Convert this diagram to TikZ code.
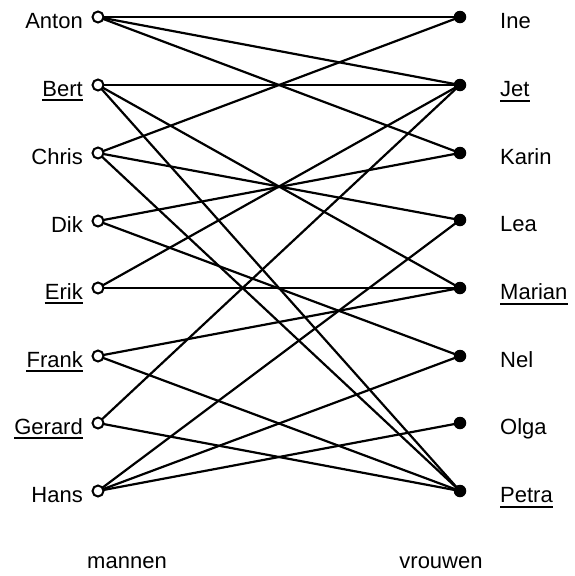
\documentclass[tikz,border=0pt]{standalone}
\usepackage{fontspec}
\setmainfont{Liberation Sans}
\begin{document}
\begin{tikzpicture}[x=1pt,y=-1pt,
  man/.style={circle,draw,line width=2pt,fill=white,minimum size=11pt,inner sep=0pt},
  vrouw/.style={circle,fill=black,minimum size=12.5pt,inner sep=0pt},
  lbl/.style={inner sep=0pt,font=\fontsize{22}{26}\selectfont},
  llbl/.style={lbl,anchor=base east},
  rlbl/.style={lbl,anchor=base west},
  edge/.style={line width=2.2pt},
  ul/.style={line width=2pt}]
\useasboundingbox (0,0) rectangle (574,576);
% left (mannen)
\foreach \n/\y in {Anton/17,Bert/85,Chris/153,Dik/221,Erik/288,Frank/356,Gerard/423,Hans/491}{
  \node[llbl] (l\n) at (83,\y+11) {\n};
}
\foreach \n/\y in {Ine/17,Jet/85,Karin/153,Lea/220,Marian/288,Nel/356,Olga/423,Petra/491}{
  \node[rlbl] (l\n) at (500,\y+11.5) {\n};
}
% edges first, then circles on top
\foreach \n/\y in {Anton/17,Bert/85,Chris/153,Dik/221,Erik/288,Frank/356,Gerard/423,Hans/491}{
  \coordinate (c\n) at (98,\y);
}
\foreach \n/\y in {Ine/17,Jet/85,Karin/153,Lea/220,Marian/288,Nel/356,Olga/423,Petra/491}{
  \coordinate (c\n) at (460,\y);
}
\foreach \a/\b in {Anton/Ine,Anton/Jet,Anton/Karin,Bert/Jet,Bert/Marian,Bert/Petra,
  Chris/Ine,Chris/Lea,Chris/Petra,Dik/Karin,Dik/Nel,Erik/Jet,Erik/Marian,
  Frank/Marian,Frank/Petra,Gerard/Jet,Gerard/Petra,Hans/Lea,Hans/Nel,Hans/Olga}{
  \draw[edge] (c\a) -- (c\b);
}
\foreach \n in {Anton,Bert,Chris,Dik,Erik,Frank,Gerard,Hans}{
  \node[man] (\n) at (c\n) {};
}
\foreach \n in {Ine,Jet,Karin,Lea,Marian,Nel,Olga,Petra}{
  \node[vrouw] (\n) at (c\n) {};
}
% underlines
\foreach \n in {Bert,Erik,Frank,Gerard,Jet,Marian,Petra}{
  \draw[ul] ([yshift=-4pt]l\n.base west) -- ([yshift=-4pt]l\n.base east);
}
\node[lbl,anchor=base] (mannen) at (127,568) {mannen};
\node[lbl,anchor=base] (vrouwen) at (441,568) {vrouwen};
\end{tikzpicture}
\end{document}
